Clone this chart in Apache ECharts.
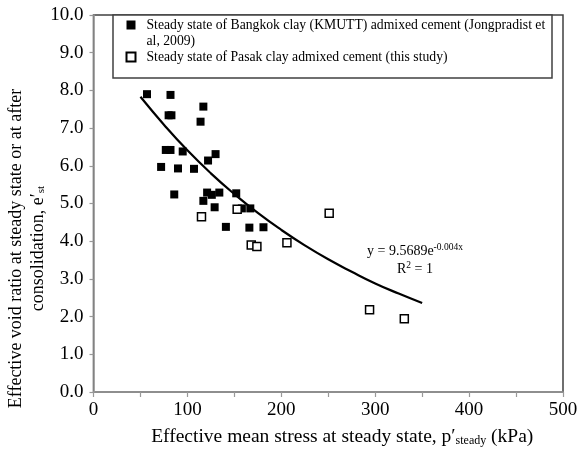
<!DOCTYPE html>
<html><head><meta charset="utf-8">
<script src="https://cdn.jsdelivr.net/npm/echarts@6/dist/echarts.min.js"></script>
<style>html,body{margin:0;padding:0;background:#fff}#c{width:578px;height:450px}</style>
</head><body><div id="c"></div>
<script>
const bangkokX = [57, 82, 117, 80, 83, 114, 77, 82, 95, 130, 122, 72, 90, 107, 86, 121, 126, 134, 117, 152, 129, 158, 167, 141, 166, 181];
const bangkokY = [7.90, 7.88, 7.57, 7.34, 7.34, 7.17, 6.42, 6.42, 6.38, 6.31, 6.14, 5.97, 5.93, 5.92, 5.24, 5.29, 5.23, 5.29, 5.07, 5.27, 4.90, 4.87, 4.87, 4.38, 4.36, 4.37];
const pasakX = [115, 153, 168, 174, 206, 251, 294, 331];
const pasakY = [4.65, 4.85, 3.90, 3.86, 3.96, 4.74, 2.18, 1.94];
const trendX = [50, 75, 100, 125, 150, 175, 200, 225, 250, 275, 300, 325, 350];
const trendY = [7.83, 7.09, 6.41, 5.80, 5.25, 4.75, 4.30, 3.89, 3.52, 3.19, 2.88, 2.61, 2.36];
const xTickLabels = ['0', '100', '200', '300', '400', '500'];
const yTickLabels = ['0.0', '1.0', '2.0', '3.0', '4.0', '5.0', '6.0', '7.0', '8.0', '9.0', '10.0'];
const seriesNames = ['Steady state of Bangkok clay (KMUTT) admixed cement (Jongpradist et\nal, 2009)', 'Steady state of Pasak clay admixed cement (this study)'];

const F = 'Liberation Serif, Times New Roman, serif';
const zip = (a, b) => a.map((v, i) => [v, b[i]]);
const chart = echarts.init(document.getElementById('c'), null, {renderer: 'canvas'});
chart.setOption({
  animation: false,
  backgroundColor: '#fff',
  grid: {left: 93.5, right: 15, top: 15, bottom: 58, containLabel: false, outerBoundsMode: 'none', show: true, borderColor: '#404040', borderWidth: 1.5, backgroundColor: 'transparent'},
  xAxis: {
    type: 'value', min: 0, max: 500, interval: 100,
    axisLine: {show: true, lineStyle: {color: '#999', width: 1.5}},
    axisTick: {show: true, length: 5, lineStyle: {color: '#999', width: 1.2}},
    minorTick: {show: true, splitNumber: 2, length: 5, lineStyle: {color: '#999', width: 1.2}},
    splitLine: {show: false},
    axisLabel: {color: '#000', fontFamily: F, fontSize: 19, margin: 9, formatter: v => xTickLabels[Math.round(v / 100)]},
    name: '{a|Effective mean stress at steady state, p′}{s|steady}{a| (kPa)}',
    nameLocation: 'middle', nameGap: 35, nameMoveOverlap: false,
    nameTextStyle: {padding: [0, 0, 0, 28], rich: {a: {fontFamily: F, fontSize: 19.5, color: '#000'}, s: {fontFamily: F, fontSize: 12, color: '#000', verticalAlign: 'bottom', padding: [7, 0, 0, 0]}}}
  },
  yAxis: {
    type: 'value', min: 0, max: 10, interval: 1,
    axisLine: {show: true, lineStyle: {color: '#999', width: 1.5}},
    axisTick: {show: true, length: 4, lineStyle: {color: '#999', width: 1.2}},
    splitLine: {show: false},
    axisLabel: {color: '#000', fontFamily: F, fontSize: 19, margin: 10, formatter: v => yTickLabels[Math.round(v)]},
    name: '{a|Effective void ratio at steady state or at after}\n{a|consolidation, e′}{s|st}',
    nameLocation: 'middle', nameGap: 44, nameMoveOverlap: false,
    nameTextStyle: {align: 'center', padding: [0, 90, 0, 0], rich: {a: {fontFamily: F, fontSize: 18, color: '#000', lineHeight: 22, align: 'center'}, s: {fontFamily: F, fontSize: 11, color: '#000', padding: [6, 0, 0, 0], lineHeight: 22}}}
  },
  legend: {
    orient: 'vertical', left: 125.5, top: 1, padding: 0, z: 10,
    itemWidth: 9, itemHeight: 9, itemGap: 0,
    formatter: name => (name === seriesNames[0] ? ' \n' : '') + name.split('\n').map(s => '{t|' + s + '}').join('\n'),
    textStyle: {fontFamily: F, fontSize: 13.7, color: '#000', lineHeight: 16, rich: {t: {fontFamily: F, fontSize: 13.7, color: '#000', lineHeight: 16, padding: [0, 0, 0, 6]}}},
    data: [
      {name: seriesNames[0], icon: 'rect'},
      {name: seriesNames[1], icon: 'rect'}
    ]
  },
  graphic: [
    {type: 'rect', z: 5, shape: {x: 113, y: 15, width: 439, height: 63}, style: {fill: '#fff', stroke: '#404040', lineWidth: 1.5}},
    {type: 'text', z: 10, left: 367, top: 242, style: {text: '{a|y = 9.5689e}{s|-0.004x}', rich: {a: {fontFamily: F, fontSize: 14, fill: '#000'}, s: {fontFamily: F, fontSize: 9.5, fill: '#000', padding: [0, 0, 8, 0]}}}},
    {type: 'text', z: 10, left: 397, top: 260, style: {text: '{a|R}{s|2}{a| = 1}', rich: {a: {fontFamily: F, fontSize: 14, fill: '#000'}, s: {fontFamily: F, fontSize: 9.5, fill: '#000', padding: [0, 0, 8, 0]}}}}
  ],
  series: [
    {name: seriesNames[0], type: 'scatter', symbol: 'rect', symbolSize: 8, itemStyle: {color: '#000', opacity: 1}, data: zip(bangkokX, bangkokY), z: 3},
    {name: seriesNames[1], type: 'scatter', symbol: 'rect', symbolSize: 8, itemStyle: {color: '#fff', borderColor: '#000', borderWidth: 1.5, opacity: 1}, data: zip(pasakX, pasakY), z: 3},
    {name: 'trend', type: 'line', smooth: true, symbol: 'none', lineStyle: {color: '#000', width: 2.2}, data: zip(trendX, trendY), z: 2}
  ]
});
</script></body></html>
